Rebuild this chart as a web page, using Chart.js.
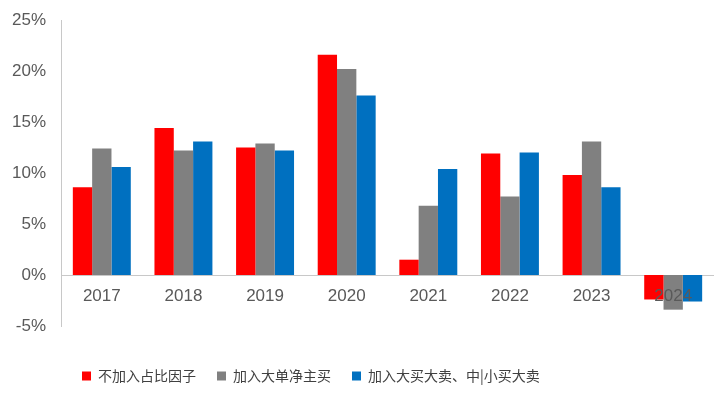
<!DOCTYPE html>
<html><head><meta charset="utf-8">
<script src="https://cdn.jsdelivr.net/npm/chart.js@4"></script>
<style>html,body{margin:0;padding:0;background:#fff}#wrap{width:714px;height:393px}</style>
</head><body><div id="wrap"><canvas id="c"></canvas></div>
<script>
const categories = ['2017','2018','2019','2020','2021','2022','2023','2024'];
const seriesNames = ['不加入占比因子','加入大单净主买','加入大买大卖、中|小买大卖'];
const noRatio = [8.6, 14.4, 12.5, 21.6, 1.5, 11.9, 9.8, -2.4];
const bigNetBuy = [12.4, 12.2, 12.9, 20.2, 6.8, 7.7, 13.1, -3.4];
const bigMidSmall = [10.6, 13.1, 12.2, 17.6, 10.4, 12.0, 8.6, -2.6];
const yTicks = [-5, 0, 5, 10, 15, 20, 25];

const colors = ['#FF0000', '#808080', '#0070C0'];
const values = [noRatio, bigNetBuy, bigMidSmall];

new Chart(document.getElementById('c'), {
  type: 'bar',
  data: {
    labels: categories,
    datasets: values.map((v, i) => ({
      label: seriesNames[i], data: v, backgroundColor: colors[i],
      borderWidth: 0, categoryPercentage: 0.71, barPercentage: 1.0
    }))
  },
  options: {
    responsive: true, maintainAspectRatio: false, animation: false,
    layout: { padding: { top: 20, right: 0, left: 0, bottom: 0 } },
    plugins: {
      tooltip: { enabled: false },
      legend: {
        position: 'bottom', align: 'start', fullSize: false,
        labels: { boxWidth: 9, boxHeight: 9, padding: 21, color: '#404040',
          font: { family: 'Noto Sans CJK SC', size: 14 } }
      }
    },
    scales: {
      x: {
        position: { y: 0 },
        grid: { display: false, drawTicks: false },
        border: { display: true, color: '#C8C8C8', width: 1 },
        ticks: { z: 1, autoSkip: false, maxRotation: 0, color: '#595959', padding: 11,
          font: { family: 'Liberation Sans', size: 17 } }
      },
      gap: {
        type: 'category', position: 'bottom', display: true,
        grid: { display: false, drawTicks: false },
        border: { display: false },
        ticks: { display: false },
        afterFit: s => { s.height = 22; }
      },
      y: {
        min: -5, max: 25,
        afterFit: s => { s.width = 61; s.paddingTop = 0; s.paddingBottom = 0; },
        afterBuildTicks: s => { s.ticks = yTicks.map(v => ({ value: v })); },
        grid: { display: false, drawTicks: false },
        border: { display: true, color: '#C8C8C8', width: 1 },
        ticks: { color: '#595959', padding: 15, font: { family: 'Liberation Sans', size: 17 },
          callback: v => v + '%' }
      }
    }
  }
});
</script></body></html>
